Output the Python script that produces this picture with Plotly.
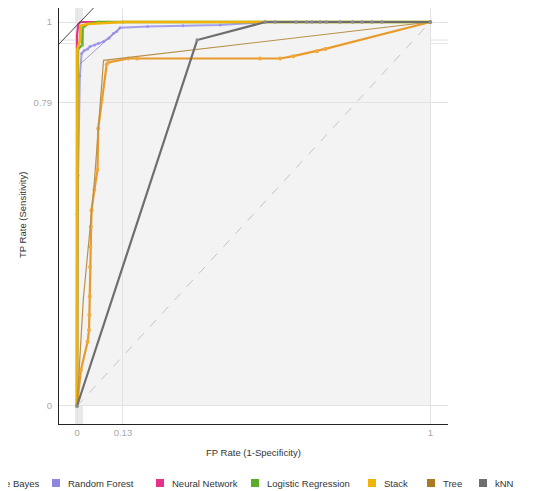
import plotly.graph_objects as go

# ---- data ----
nb_x = [0, 0.011, 0.030, 0.034, 0.035, 0.036, 0.037, 0.038, 0.039, 0.041, 0.049, 0.058, 0.060, 0.070, 0.084, 0.089, 0.145, 0.17, 0.518, 0.575, 0.612, 0.679, 0.703, 1]
nb_y = [0, 0.094, 0.167, 0.198, 0.237, 0.285, 0.362, 0.415, 0.467, 0.51, 0.5625, 0.615, 0.723, 0.797, 0.89, 0.895, 0.905, 0.905, 0.905, 0.905, 0.911, 0.924, 0.930, 1]

rf_x = [0, 0.003, 0.008, 0.013, 0.02, 0.03, 0.037, 0.05, 0.06, 0.075, 0.09, 0.103, 0.112, 0.122, 0.2, 0.3, 0.405, 0.533, 1]
rf_y = [0, 0.6, 0.86, 0.918, 0.925, 0.93, 0.936, 0.94, 0.944, 0.949, 0.958, 0.97, 0.975, 0.985, 0.988, 0.99, 0.992, 1, 1]
rf_hull_x = [0.008, 0.122]
rf_hull_y = [0.89, 0.985]

nn_x = [0, 0, 0, 0.004, 0.01, 1]
nn_y = [0, 0.9, 0.966, 0.995, 1, 1]

lr_x = [0, 0, 0.001, 0.003, 0.015, 0.016, 0.03, 0.06, 0.09, 0.13, 1]
lr_y = [0, 0.5, 0.79, 0.93, 0.94, 0.985, 0.995, 1, 1, 1, 1]

stack_x = [0, 0, 0.001, 0.008, 0.01, 0.03, 0.13, 0.53, 1]
stack_y = [0, 0.6, 0.93, 0.95, 0.99, 0.995, 1, 1, 1]

tree_x = [0, 0.018, 0.047, 0.075, 1]
tree_y = [0, 0.28, 0.56, 0.90, 1]

knn_x = [0, 0.34, 0.533, 0.56, 0.62, 0.65, 0.665, 0.688, 0.706, 0.745, 0.78, 0.806, 0.835, 0.863, 1]
knn_y = [0, 0.953, 1, 1, 1, 1, 1, 1, 1, 1, 1, 1, 1, 1, 1]

iso_x = [-0.06, 0.07]
iso_y = [0.934, 1.059]

diag_x = [0, 1]
diag_y = [0, 1]

x_ticks = [0, 0.13, 1]
x_tick_text = ["0", "0.13", "1"]
y_ticks = [0, 0.79, 1]
y_tick_text = ["0", "0.79", "1"]

legend_names = ["Naive Bayes", "Random Forest", "Neural Network", "Logistic Regression", "Stack", "Tree", "kNN"]
legend_colors = ["#e89a2c", "#8c87dc", "#e5318a", "#5cab2c", "#f0b30c", "#a97a22", "#6e6e6e"]
legend_square_px = [-30, 52, 156, 251, 368, 427, 479]

# ---- layout geometry (page has an 8px body margin) ----
OFF = 8
W, H = 547 - OFF, 491 - OFF
ML, MR, MT, MB = 59 - OFF, 99, 0, 67
PW, PH = W - ML - MR, H - MT - MB
XR = [-0.051, 1.05]
YR = [-0.0469, 1.0365]

def px2paper_x(px):
    return (px - 59) / PW

def px2paper_y(py):
    return (424 - py) / PH

FONT = "Liberation Sans, Arial, sans-serif"

fig = go.Figure()

fig.add_trace(go.Scatter(x=diag_x, y=diag_y, mode="lines",
                         line=dict(color="#c4c4c4", width=1, dash="dash"), hoverinfo="skip"))

fig.add_trace(go.Scatter(x=nb_x, y=nb_y, mode="lines+markers", name=legend_names[0],
                         line=dict(color="#e89a2c", width=2.2),
                         marker=dict(size=4, color="#f0aa3c")))
fig.add_trace(go.Scatter(x=rf_x, y=rf_y, mode="lines+markers", name=legend_names[1],
                         line=dict(color="rgba(150,145,235,0.85)", width=2),
                         marker=dict(size=3, color="rgba(150,145,235,0.85)")))
fig.add_trace(go.Scatter(x=rf_hull_x, y=rf_hull_y, mode="lines",
                         line=dict(color="#8c87c8", width=0.8), hoverinfo="skip"))
fig.add_trace(go.Scatter(x=nn_x, y=nn_y, mode="lines", name=legend_names[2],
                         line=dict(color="#e5318a", width=2.2)))
fig.add_trace(go.Scatter(x=lr_x, y=lr_y, mode="lines+markers", name=legend_names[3],
                         line=dict(color="#5cab2c", width=2.4),
                         marker=dict(size=3, color="#6cc03c")))
fig.add_trace(go.Scatter(x=stack_x, y=stack_y, mode="lines", name=legend_names[4],
                         line=dict(color="#f0b30c", width=2.6)))
fig.add_trace(go.Scatter(x=tree_x, y=tree_y, mode="lines", name=legend_names[5],
                         line=dict(color="#b8914a", width=1.2)))
fig.add_trace(go.Scatter(x=knn_x, y=knn_y, mode="lines+markers", name=legend_names[6],
                         line=dict(color="#6e6e6e", width=2.2),
                         marker=dict(size=3.5, color="#8a8a9a")))
fig.add_trace(go.Scatter(x=iso_x, y=iso_y, mode="lines",
                         line=dict(color="#444444", width=1), hoverinfo="skip"))

shapes = [
    dict(type="rect", xref="x", yref="y", x0=0, x1=1, y0=0, y1=1,
         fillcolor="#f3f3f3", line=dict(width=0), layer="below"),
    dict(type="rect", xref="x", yref="paper", x0=-0.006, x1=0.017, y0=0, y1=1,
         fillcolor="#e9e9e9", line=dict(width=0), layer="below"),
    dict(type="line", xref="paper", yref="y", x0=0, x1=1, y0=0.953, y1=0.953,
         line=dict(color="#dedede", width=1), layer="below"),
    dict(type="line", xref="paper", yref="y", x0=0, x1=1, y0=0.944, y1=0.944,
         line=dict(color="#e4e4e4", width=1), layer="below"),
]

annotations = [
    dict(text="FP Rate (1-Specificity)", xref="paper", yref="paper",
         x=px2paper_x(253), y=px2paper_y(452), showarrow=False,
         xanchor="center", yanchor="middle", font=dict(size=9.5, color="#333333", family=FONT)),
    dict(text="TP Rate (Sensitivity)", xref="paper", yref="paper", textangle=-90,
         x=px2paper_x(22), y=px2paper_y(215), showarrow=False,
         xanchor="center", yanchor="middle", font=dict(size=9.5, color="#333333", family=FONT)),
]

for name, col, sx in zip(legend_names, legend_colors, legend_square_px):
    shapes.append(dict(type="rect", xref="paper", yref="paper",
                       x0=px2paper_x(sx), x1=px2paper_x(sx + 8),
                       y0=px2paper_y(487), y1=px2paper_y(479),
                       fillcolor=col, line=dict(width=0)))
    annotations.append(dict(text=name, xref="paper", yref="paper",
                            x=px2paper_x(sx + 14), y=px2paper_y(483), showarrow=False,
                            xanchor="left", yanchor="middle",
                            font=dict(size=9.5, color="#333333", family=FONT)))

fig.update_layout(
    width=W, height=H,
    margin=dict(l=ML, r=MR, t=MT, b=MB, pad=0),
    paper_bgcolor="white", plot_bgcolor="white",
    showlegend=False,
    font=dict(family=FONT, size=9.5, color="#333333"),
    shapes=shapes, annotations=annotations,
    xaxis=dict(range=XR, tickmode="array", tickvals=x_ticks, ticktext=x_tick_text,
               showgrid=True, gridcolor="#e2e2e2", gridwidth=1, zeroline=False,
               showline=True, linecolor="#222222", linewidth=1, ticks="",
               tickfont=dict(size=9.5, color="#a8a8a8", family=FONT)),
    yaxis=dict(range=YR, tickmode="array", tickvals=y_ticks, ticktext=y_tick_text,
               showgrid=True, gridcolor="#e2e2e2", gridwidth=1, zeroline=False,
               showline=True, linecolor="#222222", linewidth=1, ticks="",
               ticklabelstandoff=4,
               tickfont=dict(size=9.5, color="#a8a8a8", family=FONT)),
)

fig.write_html("out.html")
